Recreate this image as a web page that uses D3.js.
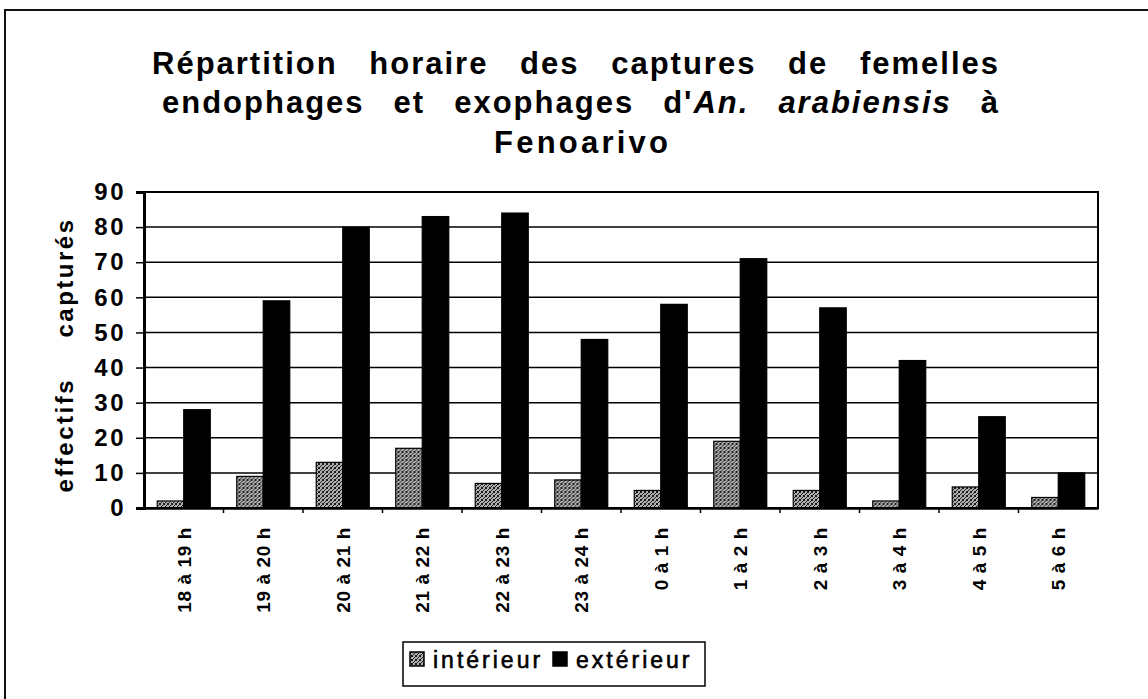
<!DOCTYPE html>
<html>
<head>
<meta charset="utf-8">
<script src="https://cdn.jsdelivr.net/npm/d3@7"></script>
<style>
  body { margin: 0; background: #fff; }
  svg { display: block; font-family: "Liberation Sans", Arial, Helvetica, sans-serif; }
</style>
</head>
<body>
<svg id="canvas" width="1148" height="699"></svg>
<script>
// heures de capture
const hours = ["18 à 19 h", "19 à 20 h", "20 à 21 h", "21 à 22 h", "22 à 23 h", "23 à 24 h",
               "0 à 1 h", "1 à 2 h", "2 à 3 h", "3 à 4 h", "4 à 5 h", "5 à 6 h"];
const interieur = [2, 9, 13, 17, 7, 8, 5, 19, 5, 2, 6, 3];
const exterieur = [28, 59, 80, 83, 84, 48, 58, 71, 57, 42, 26, 10];
const seriesNames = ["intérieur", "extérieur"];
const yTicks = [0, 10, 20, 30, 40, 50, 60, 70, 80, 90];

const width = 1148;
const height = 699;
const plot = { left: 144, right: 1098, top: 192, bottom: 508 };

const svg = d3.select("#canvas");

// motif pointillé pour les barres "intérieur"
const defs = svg.append("defs");
const pat = defs.append("pattern")
    .attr("id", "stipple")
    .attr("width", 4).attr("height", 4)
    .attr("patternUnits", "userSpaceOnUse");
pat.append("rect").attr("width", 4).attr("height", 4).attr("fill", "#b0b0b0");
[[0, 0], [2, 1], [1, 2], [3, 3], [3, 0], [0, 3]].forEach(p => {
    pat.append("rect").attr("x", p[0]).attr("y", p[1]).attr("width", 1).attr("height", 1).attr("fill", "#1a1a1a");
});

// cadre extérieur
svg.append("rect")
    .attr("x", 5).attr("y", 10)
    .attr("width", width + 20).attr("height", height + 20)
    .attr("fill", "none").attr("stroke", "#111").attr("stroke-width", 2);

// titre
const titleLines = [
    { words: ["Répartition", "horaire", "des", "captures", "de", "femelles"], x0: 152, x1: 998, y: 74, ls: 2 },
    { words: ["endophages", "et", "exophages", "d'<i>An.</i>", "<i>arabiensis</i>", "à"], x0: 162, x1: 998, y: 113, ls: 2 },
    { words: ["Fenoarivo"], x0: 495, x1: 667, y: 153, ls: 3.2 }
];

const title = svg.append("g")
    .attr("font-weight", "bold")
    .attr("font-size", 31)
    .attr("fill", "#000");

titleLines.forEach(line => {
    // largeur naturelle de chaque mot
    const pieces = line.words.map(w => {
        const t = title.append("text").attr("y", line.y).attr("letter-spacing", line.ls + "px");
        const parts = w.split(/(<i>.*?<\/i>)/).filter(s => s.length);
        parts.forEach(p => {
            if (p.startsWith("<i>")) {
                t.append("tspan").attr("font-style", "italic").text(p.replace(/<\/?i>/g, ""));
            } else {
                t.append("tspan").text(p);
            }
        });
        return { node: t, w: t.node().getComputedTextLength() - line.ls };
    });
    const total = d3.sum(pieces, p => p.w);
    if (pieces.length === 1) {
        pieces[0].node.attr("x", (line.x0 + line.x1) / 2 - pieces[0].w / 2);
        return;
    }
    const gap = (line.x1 - line.x0 - total) / (pieces.length - 1);
    let x = line.x0;
    pieces.forEach(p => {
        p.node.attr("x", x);
        x += p.w + gap;
    });
});

// échelles
const x = d3.scaleBand()
    .domain(hours)
    .range([plot.left, plot.right])
    .paddingInner(0)
    .paddingOuter(0);

const xSub = d3.scaleBand()
    .domain(seriesNames)
    .range([0, x.bandwidth()])
    .paddingOuter(0.5)
    .paddingInner(0);

const y = d3.scaleLinear()
    .domain([0, 90])
    .range([plot.bottom, plot.top]);

// lignes de grille
svg.append("g")
    .selectAll("line")
    .data(yTicks.filter(d => d > 0 && d < 90))
    .enter()
    .append("line")
    .attr("x1", plot.left).attr("x2", plot.right)
    .attr("y1", d => y(d)).attr("y2", d => y(d))
    .attr("stroke", "#000").attr("stroke-width", 1.5);

// barres
const rows = hours.map((h, i) => ({ hour: h, values: [interieur[i], exterieur[i]] }));

const groups = svg.append("g")
    .selectAll("g")
    .data(rows)
    .enter()
    .append("g")
    .attr("transform", d => `translate(${x(d.hour)},0)`);

groups.selectAll("rect")
    .data(d => d.values.map((v, k) => ({ name: seriesNames[k], value: v })))
    .enter()
    .append("rect")
    .attr("x", d => xSub(d.name))
    .attr("width", xSub.bandwidth())
    .attr("y", d => y(d.value))
    .attr("height", d => y(0) - y(d.value))
    .attr("fill", d => d.name === "intérieur" ? "url(#stipple)" : "#000")
    .attr("stroke", "#000")
    .attr("stroke-width", 1.2);

// cadre de la zone de tracé
svg.append("rect")
    .attr("x", plot.left).attr("y", plot.top)
    .attr("width", plot.right - plot.left).attr("height", plot.bottom - plot.top)
    .attr("fill", "none").attr("stroke", "#000").attr("stroke-width", 2);

// axe Y
const yAxis = d3.axisLeft(y)
    .tickValues(yTicks)
    .tickSize(8)
    .tickPadding(10);

const gy = svg.append("g")
    .attr("transform", `translate(${plot.left},0)`)
    .call(yAxis);
gy.select(".domain").attr("stroke", "#000").attr("stroke-width", 3);
gy.selectAll(".tick line").attr("stroke", "#000").attr("stroke-width", 1.5);
gy.selectAll(".tick text")
    .attr("font-family", "'Liberation Sans', Arial, sans-serif")
    .attr("font-size", 24)
    .attr("font-weight", "bold")
    .attr("letter-spacing", "2.5px")
    .attr("fill", "#000");

// axe X
const xAxis = d3.axisBottom(x)
    .tickSize(0)
    .tickPadding(0);

const gx = svg.append("g")
    .attr("transform", `translate(0,${plot.bottom})`)
    .call(xAxis);
gx.select(".domain").attr("stroke", "#000").attr("stroke-width", 2.5);
gx.selectAll(".tick text")
    .attr("font-family", "'Liberation Sans', Arial, sans-serif")
    .attr("font-size", 19)
    .attr("font-weight", "bold")
    .attr("letter-spacing", "0.6px")
    .attr("fill", "#000")
    .attr("text-anchor", "end")
    .attr("dy", "0.36em")
    .attr("transform", "translate(0,19) rotate(-90)")
    .attr("x", 0).attr("y", 0);

// petites graduations entre les catégories
svg.append("g")
    .selectAll("line")
    .data(hours.slice(1))
    .enter()
    .append("line")
    .attr("x1", d => x(d)).attr("x2", d => x(d))
    .attr("y1", plot.bottom).attr("y2", plot.bottom + 5)
    .attr("stroke", "#000").attr("stroke-width", 1.5);

// titre de l'axe Y
const yTitle = svg.append("text")
    .attr("transform", `translate(73,355) rotate(-90)`)
    .attr("text-anchor", "middle")
    .attr("font-size", 24)
    .attr("font-weight", "bold")
    .attr("letter-spacing", "2.5px")
    .attr("fill", "#000")
    .text("effectifs capturés");
const natural = yTitle.node().getComputedTextLength();
yTitle.attr("word-spacing", `${275 - natural}px`);

// légende
const legend = svg.append("g");
legend.append("rect")
    .attr("x", 403).attr("y", 642)
    .attr("width", 302).attr("height", 44)
    .attr("fill", "#fff").attr("stroke", "#000").attr("stroke-width", 1.5);

const legendItems = [
    { name: seriesNames[0], fill: "url(#stipple)", x: 410 },
    { name: seriesNames[1], fill: "#000", x: 553 }
];
legend.selectAll("g.item")
    .data(legendItems)
    .enter()
    .append("g")
    .attr("class", "item")
    .each(function (d) {
        const g = d3.select(this);
        g.append("rect")
            .attr("x", d.x).attr("y", 652)
            .attr("width", 14).attr("height", 14)
            .attr("fill", d.fill).attr("stroke", "#000").attr("stroke-width", 1.5);
        g.append("text")
            .attr("x", d.x + 23).attr("y", 668)
            .attr("font-size", 23)
            .attr("letter-spacing", "3px")
            .attr("fill", "#000")
            .attr("stroke", "#000")
            .attr("stroke-width", 0.6)
            .text(d.name);
    });
</script>
</body>
</html>
